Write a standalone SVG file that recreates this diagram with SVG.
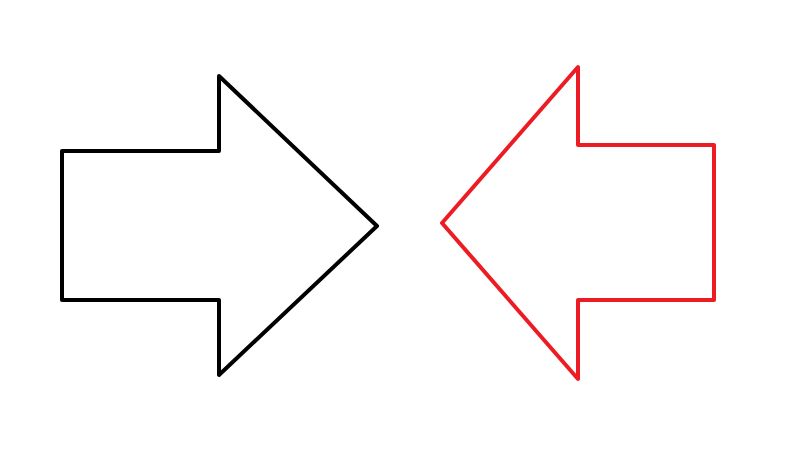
<svg xmlns="http://www.w3.org/2000/svg" width="808" height="464" viewBox="0 0 808 464">
<style>
.arrow{fill:none;stroke-width:4;stroke-linejoin:round;stroke-linecap:round}
</style>
<rect width="808" height="464" fill="#ffffff"/>
<g id="arrow-right">
<polygon class="arrow" stroke="#000000" points="62,151 219,151 219,76 377,226 219,375 219,300 62,300"/>
</g>
<g id="arrow-left">
<polygon class="arrow" stroke="#ED1C24" points="442,223 578,67 578,145 714,145 714,300 578,300 578,379"/>
</g>
<g id="connectors"></g>
</svg>
